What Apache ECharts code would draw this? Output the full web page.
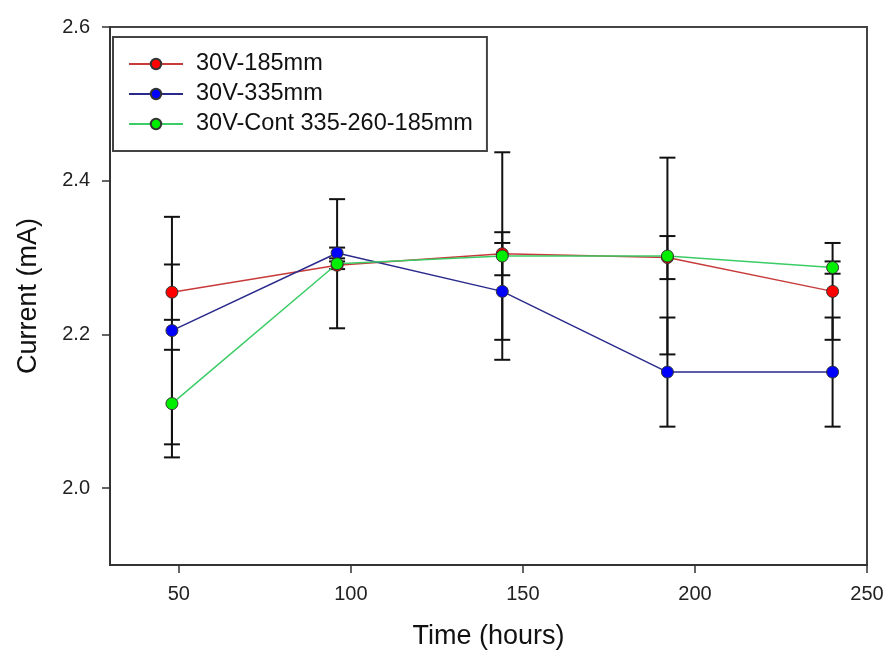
<!DOCTYPE html>
<html>
<head>
<meta charset="utf-8">
<title>Current vs time</title>
<script src="https://cdn.jsdelivr.net/npm/echarts@6/dist/echarts.min.js"></script>
<style>
  html, body { margin: 0; padding: 0; background: #fff; }
  #chart { width: 885px; height: 653px; }
</style>
</head>
<body>
<div id="chart"></div>
<script>
// time points (hours)
var hours = [48, 96, 144, 192, 240];

// mean current (mA) per run
var current185 = [2.255, 2.29, 2.305, 2.30, 2.256];
var current335 = [2.205, 2.306, 2.256, 2.151, 2.151];
var currentCont = [2.11, 2.292, 2.302, 2.302, 2.287];

// error bar half-widths (mA)
var err185 = [0.036, 0.005, 0.028, 0.028, 0.063];
var err335 = [0.148, 0.007, 0.063, 0.071, 0.071];
var errCont = [0.07, 0.084, 0.135, 0.128, 0.008];

var xTicks = [50, 100, 150, 200, 250];
var yTicks = [2.0, 2.2, 2.4, 2.6];

var names = ['30V-185mm', '30V-335mm', '30V-Cont 335-260-185mm'];

function points(vals) {
  return hours.map(function (h, i) { return [h, vals[i]]; });
}
function bars(vals, errs) {
  return hours.map(function (h, i) { return [h, vals[i] - errs[i], vals[i] + errs[i]]; });
}

// vertical bar with a cap at each end
function renderErr(params, api) {
  var x = api.value(0);
  var lo = api.coord([x, api.value(1)]);
  var hi = api.coord([x, api.value(2)]);
  var w = 8;
  var st = { stroke: '#111', lineWidth: 2 };
  return {
    type: 'group',
    children: [
      { type: 'line', shape: { x1: lo[0], y1: lo[1], x2: hi[0], y2: hi[1] }, style: st },
      { type: 'line', shape: { x1: hi[0] - w, y1: hi[1], x2: hi[0] + w, y2: hi[1] }, style: st },
      { type: 'line', shape: { x1: lo[0] - w, y1: lo[1], x2: lo[0] + w, y2: lo[1] }, style: st }
    ]
  };
}

function lineSeries(name, vals, lineColor, dotColor) {
  return {
    name: name,
    type: 'line',
    data: points(vals),
    z: 3,
    symbol: 'circle',
    symbolSize: 12,
    lineStyle: { color: lineColor, width: 1.5 },
    itemStyle: { color: dotColor, borderColor: '#333', borderWidth: 1 }
  };
}

function errSeries(vals, errs) {
  return {
    type: 'custom',
    renderItem: renderErr,
    data: bars(vals, errs),
    z: 2,
    silent: true,
    encode: { x: 0, y: [1, 2] }
  };
}

var chart = echarts.init(document.getElementById('chart'));
chart.setOption({
  animation: false,
  textStyle: { fontFamily: 'Liberation Sans, Arial, sans-serif' },
  grid: {
    left: 110, right: 18, top: 27, bottom: 88,
    containLabel: false,
    outerBoundsMode: 'none',
    show: true, borderColor: '#444', borderWidth: 2
  },
  legend: {
    data: names,
    orient: 'vertical',
    left: 113, top: 37,
    padding: [15, 14, 15, 15],
    itemGap: 6,
    itemWidth: 54,
    itemHeight: 13,
    borderColor: '#444', borderWidth: 2,
    backgroundColor: '#fff',
    textStyle: { fontSize: 23.5, color: '#111', padding: [0, 0, 0, 8], lineHeight: 24 }
  },
  xAxis: {
    type: 'value',
    min: 30, max: 250,
    name: 'Time (hours)',
    nameLocation: 'middle',
    nameGap: 58,
    nameTextStyle: { fontSize: 27, color: '#111' },
    axisLine: { lineStyle: { color: '#333', width: 2 } },
    axisTick: { customValues: xTicks, length: 8, lineStyle: { color: '#333', width: 1.5 } },
    axisLabel: { customValues: xTicks, fontSize: 20, color: '#222', margin: 19 },
    splitLine: { show: false }
  },
  yAxis: {
    type: 'value',
    min: 1.9, max: 2.6,
    name: 'Current (mA)',
    nameLocation: 'middle',
    nameGap: 68,
    nameTextStyle: { fontSize: 27, color: '#111' },
    axisLine: { lineStyle: { color: '#333', width: 2 } },
    axisTick: { customValues: yTicks, length: 8, lineStyle: { color: '#333', width: 1.5 } },
    axisLabel: {
      customValues: yTicks, fontSize: 20, color: '#222', margin: 20,
      formatter: function (v) { return v.toFixed(1); }
    },
    splitLine: { show: false }
  },
  series: [
    errSeries(current185, err185),
    errSeries(current335, err335),
    errSeries(currentCont, errCont),
    lineSeries(names[0], current185, '#c83a3a', '#ff0000'),
    lineSeries(names[1], current335, '#2a2a8c', '#0000ff'),
    lineSeries(names[2], currentCont, '#3ccc66', '#00ee00')
  ]
});
</script>
</body>
</html>
